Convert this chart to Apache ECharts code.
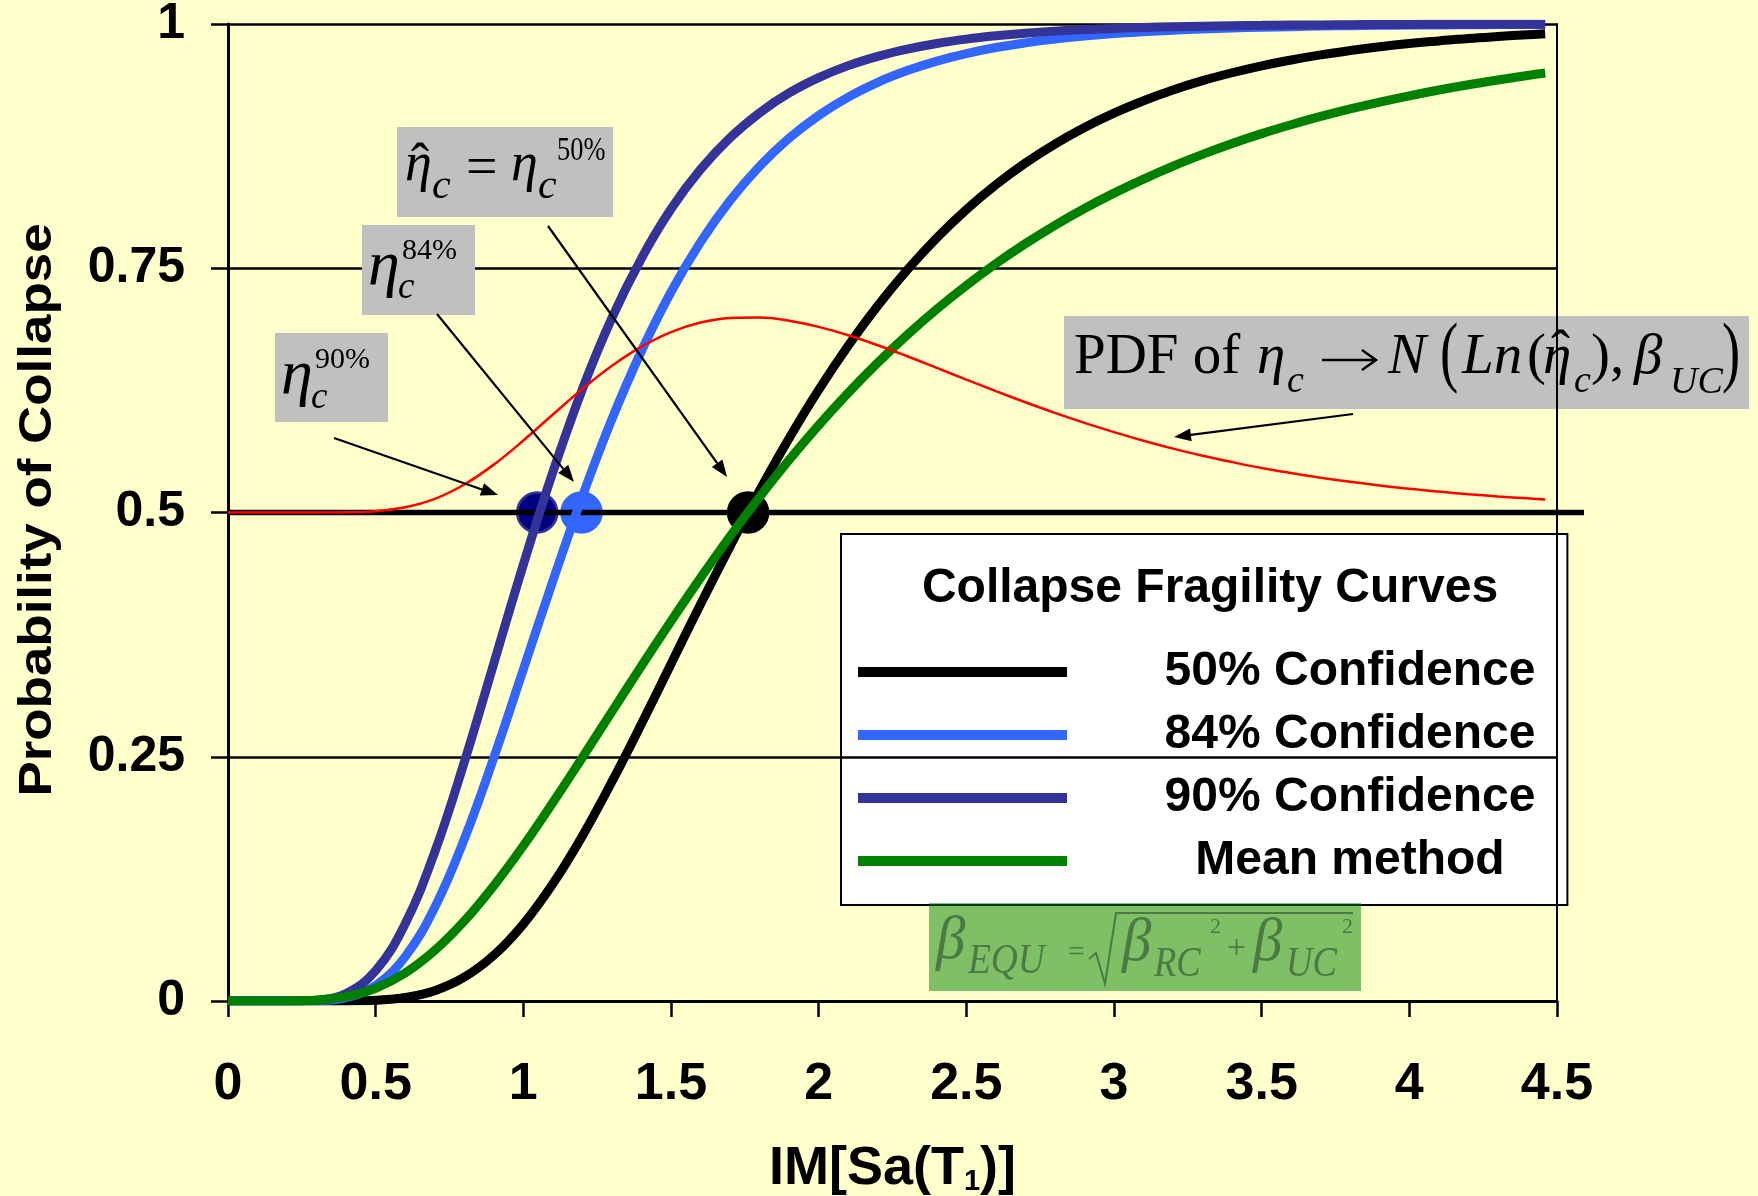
<!doctype html>
<html>
<head>
<meta charset="UTF-8">
<title>Collapse Fragility Curves</title>
<script src="https://cdn.jsdelivr.net/npm/echarts@6/dist/echarts.min.js"></script>
<style>
    html, body { margin: 0; padding: 0; background: #FFFFCC; }
    #chart { width: 1758px; height: 1196px; }
</style>
</head>
<body>
<div id="chart"></div>
<script type="text/javascript">
// IM values along the x axis
var imX = [0, 0.1, 0.2, 0.3, 0.4, 0.5, 0.6, 0.7, 0.8, 0.9, 1.0, 1.1, 1.2, 1.3, 1.4, 1.5, 1.6, 1.7, 1.8, 1.9,
    2.0, 2.1, 2.2, 2.3, 2.4, 2.5, 2.6, 2.7, 2.8, 2.9, 3.0, 3.1, 3.2, 3.3, 3.4, 3.5, 3.6, 3.7, 3.8, 3.9,
    4.0, 4.1, 4.2, 4.3, 4.4, 4.46];
// probability of collapse
var conf50 = [0, 0, 0, 0, 0.0001, 0.0008, 0.0036, 0.0106, 0.0244, 0.0468, 0.0788, 0.120, 0.169, 0.2245, 0.2837, 0.345, 0.406, 0.4653, 0.5225, 0.576,
    0.6255, 0.6707, 0.7116, 0.7483, 0.7811, 0.810, 0.8354, 0.8577, 0.8771, 0.8941, 0.9088, 0.9215, 0.9325, 0.942, 0.9501, 0.9572, 0.9632, 0.9684, 0.9728, 0.9767,
    0.980, 0.9827, 0.9852, 0.9872, 0.989, 0.990];
var conf84 = [0, 0, 0, 0.0003, 0.0034, 0.0159, 0.0454, 0.0958, 0.1656, 0.249, 0.3395, 0.430, 0.5167, 0.5956, 0.6653, 0.7257, 0.7767, 0.8193, 0.8544, 0.8832,
    0.9064, 0.9252, 0.9403, 0.9523, 0.962, 0.9697, 0.9759, 0.9807, 0.9846, 0.9877, 0.9902, 0.9921, 0.9937, 0.9949, 0.9959, 0.9967, 0.9973, 0.9979, 0.9983, 0.9986,
    0.9989, 0.9991, 0.9992, 0.9994, 0.9995, 0.9996];
var conf90 = [0, 0, 0, 0.0008, 0.0077, 0.031, 0.0791, 0.1524, 0.2445, 0.3455, 0.4467, 0.5414, 0.6263, 0.6992, 0.7602, 0.8106, 0.8511, 0.8835, 0.9091, 0.9294,
    0.9451, 0.9574, 0.9669, 0.9743, 0.9801, 0.9845, 0.9879, 0.9906, 0.9927, 0.9943, 0.9955, 0.9965, 0.9972, 0.9978, 0.9983, 0.9986, 0.9989, 0.9991, 0.9993, 0.9995,
    0.9996, 0.9997, 0.9997, 0.9998, 0.9998, 0.9998];
var meanMethod = [0, 0, 0.0001, 0.0009, 0.0044, 0.0131, 0.0286, 0.0517, 0.0818, 0.118, 0.1589, 0.2032, 0.2493, 0.2962, 0.343, 0.3888, 0.4331, 0.4756, 0.5158, 0.5538,
    0.5893, 0.6225, 0.6533, 0.6818, 0.7082, 0.7324, 0.7547, 0.7752, 0.794, 0.8112, 0.8269, 0.8413, 0.8546, 0.8666, 0.8777, 0.8878, 0.8969, 0.9054, 0.9131, 0.9201,
    0.9265, 0.9324, 0.9378, 0.9427, 0.9473, 0.9498];
// PDF of eta_c drawn on top of the 0.5 line
var pdfEta = [0.5, 0.5, 0.5, 0.5, 0.5002, 0.5014, 0.5054, 0.514, 0.5287, 0.549, 0.5737, 0.6003, 0.6264, 0.6502, 0.6698, 0.6847, 0.6944, 0.6992, 0.6997, 0.6963,
    0.69, 0.6814, 0.6712, 0.6599, 0.648, 0.636, 0.6242, 0.6128, 0.6019, 0.5917, 0.5823, 0.5735, 0.5654, 0.5581, 0.5516, 0.5456, 0.5404, 0.5356, 0.5314, 0.5277,
    0.5243, 0.5214, 0.5188, 0.5165, 0.5145, 0.5134];
// 0.5 reference line (runs a little past the right border)
var halfX = [0, 4.59];
var halfY = [0.5, 0.5];
// medians (90%, 84%, 50%)
var medianX = [1.047, 1.197, 1.761];
var medianY = [0.5, 0.5, 0.5];

var seriesNames = ['50% Confidence', '84% Confidence', '90% Confidence', 'Mean method'];
var xTicks = ['0', '0.5', '1', '1.5', '2', '2.5', '3', '3.5', '4', '4.5'];
var yTicks = ['0', '0.25', '0.5', '0.75', '1'];

var SANS = '"Liberation Sans", Arial, sans-serif';
var SERIF = '"Liberation Serif", "Times New Roman", serif';
var lineColors = ['#000000', '#3366FF', '#333399', '#008000'];
var dotColors = ['#000080', '#3366FF', '#000000'];
var dotBorders = ['#333399', '#3366FF', '#000000'];

function pairs(xs, ys) {
    var out = [];
    for (var i = 0; i < xs.length; i++) out.push([xs[i], ys[i]]);
    return out;
}

// text placed by its baseline
function txt(str, x, base, size, italic, color, sx) {
    return {
        type: 'text', x: x, y: base - 0.34 * size, z: 5, scaleX: sx || 1, silent: true,
        style: {
            text: str, fill: color || '#000', align: 'left', verticalAlign: 'middle',
            font: (italic ? 'italic ' : '') + size + 'px ' + SERIF
        }
    };
}
function box(x, y, w, h, color) {
    return { type: 'rect', z: 5, silent: true, shape: { x: x, y: y, width: w, height: h }, style: { fill: color } };
}
function arrow(x1, y1, x2, y2) {
    var a = Math.atan2(y2 - y1, x2 - x1), L = 17, W = 6.5;
    var bx = x2 - L * Math.cos(a), by = y2 - L * Math.sin(a);
    return [
        { type: 'line', z: 5, silent: true, shape: { x1: x1, y1: y1, x2: bx, y2: by }, style: { stroke: '#000', lineWidth: 2.2 } },
        { type: 'polygon', z: 5, silent: true, shape: { points: [[x2, y2], [bx - W * Math.sin(a), by + W * Math.cos(a)], [bx + W * Math.sin(a), by - W * Math.cos(a)]] }, style: { fill: '#000' } }
    ];
}

var gEl = [];
// eta_c hat = eta_c 50%
gEl.push(box(397, 127, 216, 90, '#C0C0C0'));
gEl.push(txt('\u03b7', 405, 184, 54, true));
gEl.push(txt('\u02c6', 411, 185, 54, false));
gEl.push(txt('c', 432, 201, 42, true));
gEl.push(txt('=', 466, 189, 56, false));
gEl.push(txt('\u03b7', 511, 184, 54, true));
gEl.push(txt('c', 538, 201, 42, true));
gEl.push(txt('50%', 557, 163, 33, false, '#000', 0.8));
// eta_c 84%
gEl.push(box(362, 225, 113, 90, '#C0C0C0'));
gEl.push(txt('\u03b7', 368, 289, 64, true));
gEl.push(txt('c', 398, 301, 37, true));
gEl.push(txt('84%', 402, 261, 30, false));
// eta_c 90%
gEl.push(box(275, 333, 113, 89, '#C0C0C0'));
gEl.push(txt('\u03b7', 281, 398, 64, true));
gEl.push(txt('c', 311, 411, 37, true));
gEl.push(txt('90%', 315, 370, 30, false));
// PDF label
gEl.push(box(1064, 316, 685, 93, '#C0C0C0'));
gEl.push(txt('PDF of', 1074, 377, 57, false));
gEl.push(txt('\u03b7', 1257, 377, 57, true));
gEl.push(txt('c', 1287, 395, 38, true));
gEl.push({ type: 'line', z: 5, silent: true, shape: { x1: 1322, y1: 360, x2: 1374, y2: 360 }, style: { stroke: '#000', lineWidth: 2.5 } });
gEl.push({ type: 'polyline', z: 5, silent: true, shape: { points: [[1362, 350], [1376, 360], [1362, 370]] }, style: { stroke: '#000', lineWidth: 2.5, fill: null } });
gEl.push(txt('N', 1388, 377, 57, true));
gEl.push(txt('(', 1440, 383, 78, false, '#000', 0.7));
gEl.push(txt('Ln', 1462, 377, 57, true));
gEl.push(txt('(', 1527, 377, 57, false));
gEl.push(txt('\u03b7', 1543, 377, 57, true));
gEl.push(txt('\u02c6', 1551, 373, 57, false));
gEl.push(txt('c', 1574, 395, 38, true));
gEl.push(txt('),', 1591, 377, 57, false));
gEl.push(txt('\u03b2', 1634, 377, 57, true));
gEl.push(txt('UC', 1670, 396, 38, true));
gEl.push(txt(')', 1722, 383, 78, false, '#000', 0.7));
// beta_EQU formula
var gTxt = '#4b7a45';
gEl.push(box(929, 903, 432, 88, 'rgba(0,128,0,0.5)'));
gEl.push(txt('\u03b2', 936, 963, 62, true, gTxt, 0.95));
gEl.push(txt('EQU', 968, 976, 43, true, gTxt, 0.87));
gEl.push(txt('=', 1068, 963, 30, false, gTxt));
gEl.push({ type: 'polyline', z: 5, silent: true, shape: { points: [[1089, 959], [1096, 953], [1105, 984], [1116, 913], [1353, 913]] }, style: { stroke: gTxt, lineWidth: 2, fill: null } });
gEl.push(txt('\u03b2', 1122, 965, 62, true, gTxt, 0.95));
gEl.push(txt('RC', 1154, 979, 43, true, gTxt, 0.85));
gEl.push(txt('2', 1210, 935, 22, false, gTxt));
gEl.push(txt('+', 1227, 961, 34, false, gTxt));
gEl.push(txt('\u03b2', 1253, 965, 62, true, gTxt, 0.95));
gEl.push(txt('UC', 1286, 979, 43, true, gTxt, 0.85));
gEl.push(txt('2', 1342, 935, 22, false, gTxt));
// arrows
gEl = gEl.concat(arrow(548, 226, 727, 477));
gEl = gEl.concat(arrow(437, 314, 574, 482));
gEl = gEl.concat(arrow(334, 438, 498, 495));
gEl = gEl.concat(arrow(1353, 414, 1174, 437));
// legend title
gEl.push({
    type: 'text', x: 1210, y: 589, z: 5, silent: true,
    style: { text: 'Collapse Fragility Curves', fill: '#000', align: 'center', verticalAlign: 'middle', font: 'bold 48px ' + SANS }
});
// y axis title
gEl.push({
    type: 'text', x: 38, y: 510, z: 5, silent: true, rotation: Math.PI / 2, scaleX: 1.15,
    style: { text: 'Probability of Collapse', fill: '#000', align: 'center', verticalAlign: 'middle', font: 'bold 46px ' + SANS }
});

var myChart = echarts.init(document.getElementById('chart'));
var curveData = [conf50, conf84, conf90, meanMethod];
var series = [{
    name: 'half', type: 'line', xAxisIndex: 1, yAxisIndex: 2, data: pairs(halfX, halfY), symbol: 'none', silent: true,
    lineStyle: { color: '#000', width: 5.5 }
}];
for (var i = 0; i < curveData.length; i++) {
    series.push({
        name: seriesNames[i], type: 'line', data: pairs(imX, curveData[i]), symbol: 'none', smooth: 0.4,
        lineStyle: { color: lineColors[i], width: 9 }, itemStyle: { color: lineColors[i] }
    });
}
series.push({
    name: 'PDF', type: 'line', data: pairs(imX, pdfEta), symbol: 'none', smooth: 0.4,
    lineStyle: { color: '#FF0000', width: 2.5 }
});
series.push({
    name: 'median', type: 'scatter', symbolSize: 40,
    data: pairs(medianX, medianY).map(function (d, k) {
        return { value: d, itemStyle: { color: dotColors[k], borderColor: dotBorders[k], borderWidth: 2.5, opacity: 1 } };
    })
});

var option = {
    backgroundColor: '#FFFFCC',
    animation: false,
    grid: [
        { left: 228, right: 201, top: 24, bottom: 195, outerBoundsMode: 'none' },
        // same plot, widened so the 0.5 line can run past the border
        { left: 228, right: 174, top: 24, bottom: 195, outerBoundsMode: 'none' }
    ],
    legend: {
        data: seriesNames.map(function (n, i) { return { name: n, itemStyle: { color: lineColors[i] } }; }),
        orient: 'vertical', left: 841, top: 534,
        padding: [114, 32, 20, 17], itemGap: 15, itemWidth: 209, itemHeight: 10, icon: 'rect',
        backgroundColor: '#fff', borderColor: '#000', borderWidth: 2, z: 0, selectedMode: false,
        formatter: function (n) { return '{t|' + n + '}'; },
        textStyle: {
            fontFamily: SANS, fontWeight: 'bold', fontSize: 48, color: '#000',
            rich: { t: { fontFamily: SANS, fontWeight: 'bold', fontSize: 48, color: '#000', width: 324, padding: [0, 0, 0, 116], align: 'center' } }
        }
    },
    xAxis: [{
        type: 'value', min: 0, max: 4.5, interval: 0.5,
        name: 'IM[Sa(T{s|1})]', nameLocation: 'middle', nameGap: 141,
        nameTextStyle: {
            fontFamily: SANS, fontWeight: 'bold', fontSize: 54, color: '#000',
            rich: { s: { fontFamily: SANS, fontWeight: 'bold', fontSize: 29, color: '#000', verticalAlign: 'bottom' } }
        },
        axisLine: { show: true, lineStyle: { color: '#000', width: 3 } },
        axisTick: { show: true, inside: false, length: 16, lineStyle: { color: '#000', width: 2.5 } },
        splitLine: { show: false },
        axisLabel: {
            margin: 58, fontFamily: SANS, fontWeight: 'bold', fontSize: 52, color: '#000',
            formatter: function (v) { return xTicks[Math.round(v / 0.5)]; }
        }
    }, {
        type: 'value', gridIndex: 1, min: 0, max: 4.59, show: false
    }],
    yAxis: [{
        type: 'value', min: 0, max: 1, interval: 0.25, z: 1,
        axisLine: { show: true, lineStyle: { color: '#000', width: 3 } },
        axisTick: { show: true, inside: false, length: 17, lineStyle: { color: '#000', width: 2.5 } },
        splitLine: { show: true, lineStyle: { color: '#000', width: 2.5 } },
        axisLabel: {
            margin: 43, fontFamily: SANS, fontWeight: 'bold', fontSize: 50, color: '#000',
            formatter: function (v) { return yTicks[Math.round(v / 0.25)]; }
        }
    }, {
        type: 'value', position: 'right', min: 0, max: 1, z: 6,
        axisLine: { show: true, lineStyle: { color: '#000', width: 2 } },
        axisTick: { show: false }, axisLabel: { show: false }, splitLine: { show: false }
    }, {
        type: 'value', gridIndex: 1, min: 0, max: 1, show: false
    }],
    graphic: { elements: gEl },
    series: series
};
myChart.setOption(option);
</script>
</body>
</html>
